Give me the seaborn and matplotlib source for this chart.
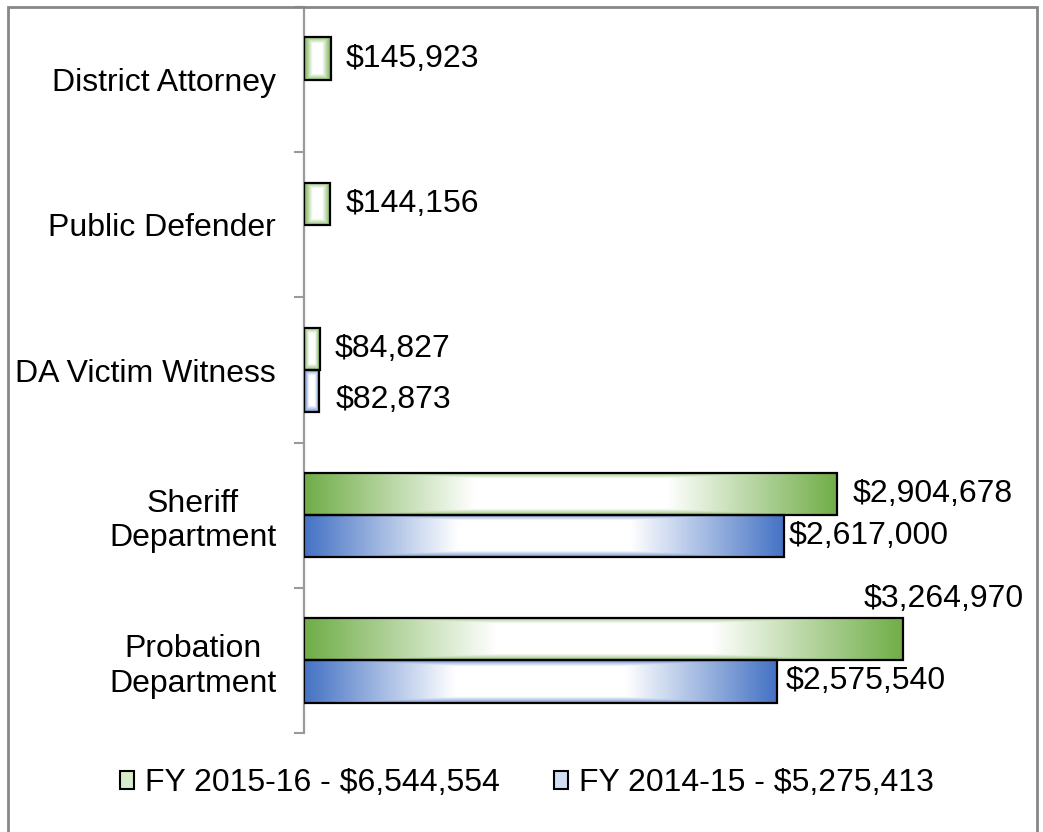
import numpy as np
import pandas as pd
import matplotlib
matplotlib.use("Agg")
import matplotlib.pyplot as plt
from matplotlib.patches import Rectangle, Patch
from matplotlib.colors import to_rgb
import seaborn as sns

# ---- data -------------------------------------------------------------
departments = ["District Attorney", "Public Defender", "DA Victim Witness",
               "Sheriff Department", "Probation Department"]
tick_labels = ["District Attorney", "Public Defender", "DA Victim Witness",
               "Sheriff\nDepartment", "Probation\nDepartment"]
years = ["FY 2015-16", "FY 2014-15"]
fy_2015_16 = [145923, 144156, 84827, 2904678, 3264970]
fy_2014_15 = [np.nan, np.nan, 82873, 2617000, 2575540]

colors = {"FY 2015-16": "#70AD47", "FY 2014-15": "#4472C4"}

df = pd.DataFrame({
    "Department": departments * 2,
    "Year": [years[0]] * 5 + [years[1]] * 5,
    "Amount": fy_2015_16 + fy_2014_15,
}).dropna()

totals = df.groupby("Year")["Amount"].sum()

# label nudges (pixels) for a few crowded value labels
label_nudge = {
    ("Sheriff Department", "FY 2014-15"): (4, 0, "left"),
    ("Probation Department", "FY 2014-15"): (9, 0, "left"),
    ("DA Victim Witness", "FY 2014-15"): (16, -9, "left"),
    ("Probation Department", "FY 2015-16"): (120, 40, "right"),
}

# ---- figure -----------------------------------------------------------
sns.set_theme(style="white")
plt.rcParams["font.family"] = ["Liberation Sans", "DejaVu Sans"]
plt.rcParams["text.color"] = "black"
plt.rcParams["ytick.labelcolor"] = "black"

FS = 23
W, H = 1043, 832
fig = plt.figure(figsize=(W / 100, H / 100), dpi=100)
ax = fig.add_axes([304 / W, 1 - 733 / H, (1020 - 304) / W, (733 - 7) / H])

sns.barplot(data=df, y="Department", x="Amount", hue="Year",
            order=departments, hue_order=years, palette=colors,
            orient="h", width=0.58, saturation=1, dodge=True,
            edgecolor="black", linewidth=1.6, legend=False, ax=ax)

xmax = 3.9e6
ylims = (4.5, -0.5)


def gradient_image(color, nx=300, ny=60):
    """White centre fading to the series colour toward the bar ends."""
    c = np.array(to_rgb(color))
    u = np.linspace(0, 1, nx)
    v = np.linspace(0, 1, ny)
    dx = np.abs(u - 0.5) * 2
    dy = np.abs(v - 0.5) * 2
    fx = np.clip((dx - 0.36) / 0.64, 0, 1)
    fy = np.clip((dy - 0.72) / 0.28, 0, 1) * 0.75
    f = np.maximum(fx[None, :], fy[:, None])
    img = (1 - f[..., None]) * np.ones(3) + f[..., None] * c
    return img


for container, year in zip(ax.containers, years):
    col = colors[year]
    for patch in container.patches:
        x0, y0 = patch.get_x(), patch.get_y()
        w, h = patch.get_width(), patch.get_height()
        if not np.isfinite(w) or w <= 0:
            continue
        patch.set_facecolor("none")
        patch.set_zorder(3)
        im = ax.imshow(gradient_image(col), extent=(x0, x0 + w, y0 + h, y0),
                       aspect="auto", interpolation="bilinear", zorder=2)
        im.set_clip_path(patch)

        # value label from the bar's own width
        yc = y0 + h / 2
        dept = departments[int(round(yc + (0.145 if year == years[0] else -0.145)))]
        dxp, dyp, ha = label_nudge.get((dept, year), (15, 0, "left"))
        ax.annotate(f"${w:,.0f}", xy=(x0 + w, yc), xytext=(dxp, dyp),
                    textcoords="offset pixels", ha=ha, va="center",
                    fontsize=FS, color="black", zorder=5)

ax.set_xlim(0, xmax)
ax.set_ylim(*ylims)

# axes styling
for s in ["top", "right", "bottom"]:
    ax.spines[s].set_visible(False)
ax.spines["left"].set_color("#9a9a9a")
ax.spines["left"].set_linewidth(1.6)
ax.set_xticks([])
ax.set_xlabel("")
ax.set_ylabel("")
ax.set_yticks(range(len(departments)))
ax.set_yticklabels(tick_labels, fontsize=FS, ha="right", multialignment="center",
                   color="black")
ax.tick_params(axis="y", which="major", length=0, pad=20)
ax.set_yticks(np.arange(-0.5, len(departments), 1), minor=True)
ax.tick_params(axis="y", which="minor", length=7.5, width=1.5,
               color="#9a9a9a", left=True)
ax.grid(False)

# legend with series totals
handles = [Patch(facecolor=(0.85, 0.93, 0.80), edgecolor="black", linewidth=1.5),
           Patch(facecolor=(0.82, 0.87, 0.95), edgecolor="black", linewidth=1.5)]
labels = [f"{y} - ${totals[y]:,.0f}" for y in years]
leg = fig.legend(handles, labels, loc="center", bbox_to_anchor=(527 / W, 1 - 783 / H),
                 ncol=2, frameon=False, fontsize=FS, handlelength=0.42,
                 handleheight=0.5, handletextpad=0.35, columnspacing=1.7)
for t in leg.get_texts():
    t.set_color("black")

# chart frame
fig.patches.append(Rectangle((8 / W, -0.05), (1037 - 8) / W, 1.05 - 7 / H,
                             transform=fig.transFigure, fill=False,
                             edgecolor="#878787", linewidth=2))

fig.savefig("out.png", dpi=100, facecolor="white")
